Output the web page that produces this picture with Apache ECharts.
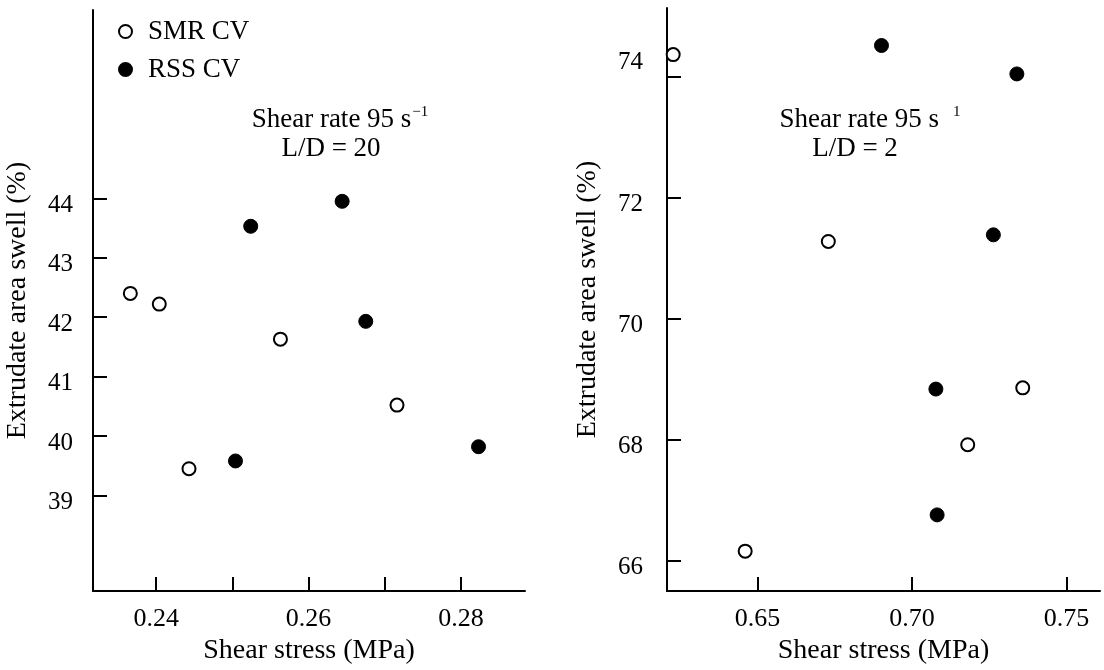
<!DOCTYPE html>
<html>
<head>
<meta charset="utf-8">
<script src="https://cdn.jsdelivr.net/npm/echarts@6/dist/echarts.min.js"></script>
<style>
html,body{margin:0;padding:0;background:#fff;}
#c{width:1104px;height:670px;}
</style>
</head>
<body>
<div id="c"></div>
<script>
// ---- Data ----
// Left panel: L/D = 20
const leftSMR = [[0.2366, 42.40], [0.2404, 42.22], [0.2443, 39.45], [0.2563, 41.63], [0.2716, 40.52]];
const leftRSS = [[0.2504, 39.58], [0.2524, 43.53], [0.2644, 43.95], [0.2675, 41.93], [0.2823, 39.82]];
// Right panel: L/D = 2
const rightSMR = [[0.6227, 74.36], [0.6460, 66.15], [0.6729, 71.27], [0.7180, 67.91], [0.7358, 68.85]];
const rightRSS = [[0.6901, 74.51], [0.7077, 68.83], [0.7081, 66.75], [0.7263, 71.38], [0.7339, 74.04]];

const leftXTicks = [0.24, 0.25, 0.26, 0.27, 0.28];
const leftXLabels = [0.24, 0.26, 0.28];
const leftYTicks = [39, 40, 41, 42, 43, 44];
const rightXTicks = [0.65, 0.70, 0.75];
const rightYTicks = [66, 68, 70, 72, 74];

const seriesNames = ['SMR CV', 'RSS CV'];
const xTitle = 'Shear stress (MPa)';
const yTitle = 'Extrudate area swell (%)';
const leftNote = ['Shear rate 95 s', '−1', 'L/D = 20', 1];
const rightNote = ['Shear rate 95 s', '1', 'L/D = 2', 14];

// ---- Styling ----
const FONT = 'Liberation Serif';
const BLACK = '#000';

function xAxisCfg(gridIndex, min, max, ticks, labels) {
  return {
    type: 'value', gridIndex, min, max,
    name: xTitle, nameLocation: 'middle', nameGap: 40,
    nameTextStyle: {fontFamily: FONT, fontSize: 28, color: BLACK},
    axisLine: {show: true, lineStyle: {color: BLACK, width: 2}},
    axisTick: {show: true, inside: true, length: 14, lineStyle: {color: BLACK, width: 2}, customValues: ticks},
    axisLabel: {fontFamily: FONT, fontSize: 26, color: BLACK, margin: 15, customValues: labels,
      formatter: v => v.toFixed(2)},
    splitLine: {show: false}
  };
}
function yAxisCfg(gridIndex, min, max, ticks, margin, nameGap, upValue) {
  return {
    type: 'value', gridIndex, min, max,
    name: yTitle, nameLocation: 'middle', nameRotate: 90, nameGap,
    nameTextStyle: {fontFamily: FONT, fontSize: 28, color: BLACK},
    axisLine: {show: true, lineStyle: {color: BLACK, width: 2}},
    axisTick: {show: true, inside: true, length: 14, lineStyle: {color: BLACK, width: 2}, customValues: ticks},
    axisLabel: {
      fontFamily: FONT, fontSize: 25, color: BLACK, margin, customValues: ticks,
      formatter: v => (v === upValue ? '{u|' + v + '}' : '{d|' + v + '}'),
      rich: {
        d: {fontFamily: FONT, fontSize: 25, color: BLACK, padding: [14, 0, 0, 0]},
        u: {fontFamily: FONT, fontSize: 25, color: BLACK, padding: [0, 0, 28, 0]}
      }
    },
    splitLine: {show: false}
  };
}
const openStyle = {color: '#fff', borderColor: BLACK, borderWidth: 2, opacity: 1};
const filledStyle = {color: BLACK, borderColor: BLACK, borderWidth: 1, opacity: 1};

function noteGraphics(note, cx1, cx2) {
  return [
    {type: 'text', x: cx1, y: 120, style: {
      text: '{a|' + note[0] + '}{s|' + note[1] + '}', align: 'center', verticalAlign: 'middle',
      rich: {a: {fontFamily: FONT, fontSize: 27, fill: BLACK, lineHeight: 30},
             s: {fontFamily: FONT, fontSize: 15, fill: BLACK, verticalAlign: 'top', lineHeight: 30, padding: [0, 0, 0, note[3]]}}
    }},
    {type: 'text', x: cx2, y: 149, style: {
      text: note[2], align: 'center', verticalAlign: 'middle',
      fontFamily: FONT, fontSize: 27, fill: BLACK
    }}
  ];
}

const option = {
  backgroundColor: '#fff',
  animation: false,
  grid: [
    {left: 93, top: 10, width: 432, height: 587},
    {left: 667, top: 8, width: 433, height: 589}
  ],
  xAxis: [
    xAxisCfg(0, 0.2317, 0.2884, leftXTicks, leftXLabels),
    xAxisCfg(1, 0.6207, 0.7608, rightXTicks, rightXTicks)
  ],
  yAxis: [
    yAxisCfg(0, 37.39, 47.17, leftYTicks, 20, 61, null),
    yAxisCfg(1, 65.49, 75.13, rightYTicks, 24, 65, 74)
  ],
  legend: {
    left: 113, top: 13, orient: 'vertical', itemGap: 11,
    itemWidth: 35, itemHeight: 13,
    textStyle: {fontFamily: FONT, fontSize: 27, color: BLACK},
    data: seriesNames
  },
  graphic: [].concat(
    noteGraphics(leftNote, 340, 331),
    noteGraphics(rightNote, 870, 855)
  ),
  series: [
    {name: seriesNames[0], type: 'scatter', xAxisIndex: 0, yAxisIndex: 0, symbol: 'circle', symbolSize: 13, itemStyle: openStyle, data: leftSMR},
    {name: seriesNames[1], type: 'scatter', xAxisIndex: 0, yAxisIndex: 0, symbol: 'circle', symbolSize: 14, itemStyle: filledStyle, data: leftRSS},
    {name: seriesNames[0], type: 'scatter', xAxisIndex: 1, yAxisIndex: 1, symbol: 'circle', symbolSize: 13, itemStyle: openStyle, data: rightSMR},
    {name: seriesNames[1], type: 'scatter', xAxisIndex: 1, yAxisIndex: 1, symbol: 'circle', symbolSize: 14, itemStyle: filledStyle, data: rightRSS}
  ]
};
const chart = echarts.init(document.getElementById('c'), null, {renderer: 'canvas'});
chart.setOption(option);
</script>
</body>
</html>
